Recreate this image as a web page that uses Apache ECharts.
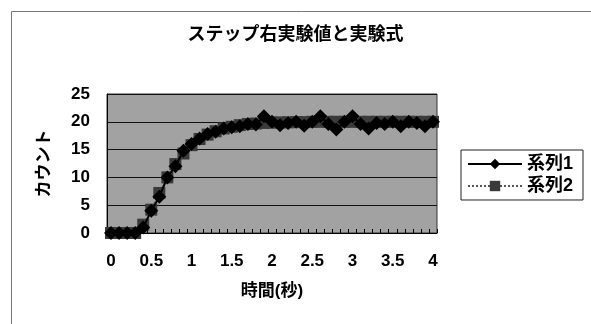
<!DOCTYPE html>
<html><head><meta charset="utf-8">
<script src="https://cdn.jsdelivr.net/npm/echarts@6/dist/echarts.min.js"></script>
<style>html,body{margin:0;padding:0;background:#fff}#c{width:591px;height:324px}</style>
</head><body><div id="c"></div>
<script>
var categories = ['0','0.1','0.2','0.3','0.4','0.5','0.6','0.7','0.8','0.9','1','1.1','1.2','1.3','1.4','1.5','1.6','1.7','1.8','1.9','2','2.1','2.2','2.3','2.4','2.5','2.6','2.7','2.8','2.9','3','3.1','3.2','3.3','3.4','3.5','3.6','3.7','3.8','3.9','4'];
var series1 = [0,0,0,0,1,4,6.5,10,12,14.8,16,17,17.8,18.2,18.8,19,19.2,19.6,19.5,21,20,19.4,19.8,20,19.3,20,21,19.6,18.6,20,21,19.6,18.8,19.8,19.6,20,19.2,20,19.8,19.2,20];
var series2 = [0,0,0,0,1.5,4.2,7.2,10,12.4,14.3,15.8,16.9,17.7,18.3,18.8,19.1,19.4,19.6,19.7,19.8,19.85,19.9,19.9,19.95,19.95,20,20,20,20,20,20,20,20,20,20,20,20,20,20,20,20];
var yTicks = {min:0, max:25, interval:5};
var FONT = '"Liberation Sans","Noto Sans CJK JP",sans-serif';
var chart = echarts.init(document.getElementById('c'), null, {renderer:'canvas'});
chart.setOption({
  animation:false,
  backgroundColor:'#fff',
  title:{text:'ステップ右実験値と実験式', left:'center', top:21,
    textStyle:{fontFamily:FONT, fontSize:18, fontWeight:'bold', color:'#000'}},
  graphic:[{type:'rect', shape:{x:11.5,y:11.5,width:620,height:400}, style:{fill:null, stroke:'#777', lineWidth:1}, silent:true}],
  grid:{left:107, top:94, width:330, height:139, show:true, backgroundColor:'#a2a2a2', borderColor:'#333', borderWidth:1},
  legend:{orient:'vertical', left:461, top:150, itemWidth:54, itemHeight:13, itemGap:4,
    padding:[5,10,5,6], borderColor:'#222', borderWidth:1, backgroundColor:'#fff',
    textStyle:{fontFamily:FONT, fontSize:18, fontWeight:'bold', color:'#000'},
    data:['系列1','系列2']},
  xAxis:{type:'category', data:categories, boundaryGap:true,
    name:'時間(秒)', nameLocation:'middle', nameGap:50,
    nameTextStyle:{fontFamily:FONT, fontSize:17, fontWeight:'bold', color:'#000'},
    axisLine:{lineStyle:{color:'#000', width:1}},
    axisTick:{show:true, inside:true, length:4, interval:0, lineStyle:{color:'#000'}},
    axisLabel:{interval:4, margin:20, fontFamily:FONT, fontSize:17, fontWeight:'bold', color:'#000'},
    splitLine:{show:false}},
  yAxis:{type:'value', min:yTicks.min, max:yTicks.max, interval:yTicks.interval,
    name:'カウント', nameLocation:'middle', nameGap:54, nameRotate:90,
    nameTextStyle:{fontFamily:FONT, fontSize:17, fontWeight:'bold', color:'#000'},
    axisLine:{show:true, lineStyle:{color:'#000'}},
    axisTick:{show:false},
    axisLabel:{margin:17, fontFamily:FONT, fontSize:17, fontWeight:'bold', color:'#000'},
    splitLine:{show:true, lineStyle:{color:'#111', width:1}}},
  series:[
    {name:'系列1', type:'line', data:series1, symbol:'diamond', symbolSize:14, showAllSymbol:true,
      itemStyle:{color:'#000'}, lineStyle:{color:'#000', width:2}, z:3},
    {name:'系列2', type:'line', data:series2, symbol:'rect', symbolSize:12, showAllSymbol:true,
      itemStyle:{color:'#3a3a3a'}, lineStyle:{color:'#555', width:1.5, type:'dotted'}, z:2}
  ]
});
</script></body></html>
